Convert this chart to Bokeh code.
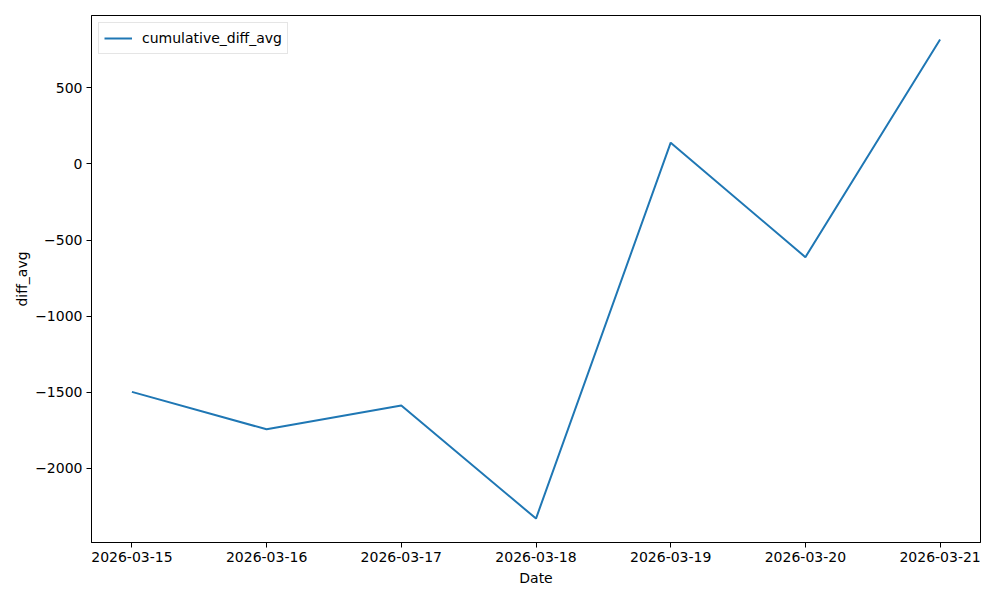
from datetime import datetime
from bokeh.plotting import figure
from bokeh.models import (ColumnDataSource, FixedTicker, DatetimeTickFormatter,
                          CustomJSTickFormatter, Legend, LegendItem, Range1d)
from bokeh.embed import file_html
from bokeh.resources import INLINE

dates = ["2026-03-15", "2026-03-16", "2026-03-17", "2026-03-18",
         "2026-03-19", "2026-03-20", "2026-03-21"]
values = [-1497, -1743, -1586, -2329, 140, -612, 818]
y_ticks = [-2000, -1500, -1000, -500, 0, 500]

xs = [datetime.strptime(d, "%Y-%m-%d") for d in dates]
src = ColumnDataSource(dict(x=xs, y=values))

x0 = xs[0].timestamp() * 1000
x1 = xs[-1].timestamp() * 1000
xpad = (x1 - x0) * 0.05
ymin, ymax = min(values), max(values)
ypad = (ymax - ymin) * 0.05

FONT = "DejaVu Sans"

p = figure(width=1000, height=600, frame_width=889, frame_height=527,
           x_axis_type="datetime", output_backend="svg", toolbar_location=None,
           min_border_left=91, min_border_right=20, min_border_top=15, min_border_bottom=58,
           x_range=Range1d(x0 - xpad, x1 + xpad),
           y_range=Range1d(ymin - ypad, ymax + ypad))

r = p.line("x", "y", source=src, line_color="#1f77b4", line_width=2)

p.xgrid.visible = False
p.ygrid.visible = False
p.outline_line_color = "black"
p.outline_line_width = 1
p.background_fill_color = "white"
p.border_fill_color = "white"

p.xaxis.ticker = FixedTicker(ticks=[d.timestamp() * 1000 for d in xs])
p.xaxis.formatter = DatetimeTickFormatter(days="%Y-%m-%d", months="%Y-%m-%d",
                                          hours="%Y-%m-%d", years="%Y-%m-%d")
p.yaxis.ticker = FixedTicker(ticks=y_ticks)
p.yaxis.formatter = CustomJSTickFormatter(code="return String(tick).replace('-', '\u2212');")

for ax in (p.xaxis[0], p.yaxis[0]):
    ax.major_tick_out = 5
    ax.major_tick_in = 0
    ax.minor_tick_line_color = None
    ax.axis_line_color = "black"
    ax.major_tick_line_color = "black"
    ax.major_label_text_font = FONT
    ax.major_label_text_font_size = "14px"
    ax.major_label_text_color = "black"
    ax.axis_label_text_font = FONT
    ax.axis_label_text_font_size = "14px"
    ax.axis_label_text_font_style = "normal"
    ax.axis_label_text_color = "black"

p.xaxis.axis_label = "Date"
p.yaxis.axis_label = "diff_avg"
p.xaxis.major_label_standoff = 4
p.yaxis.major_label_standoff = 4
p.xaxis.axis_label_standoff = 5
p.yaxis.axis_label_standoff = 2

legend = Legend(items=[LegendItem(label="cumulative_diff_avg", renderers=[r])],
                location="top_left")
legend.label_text_font = FONT
legend.label_text_font_size = "14px"
legend.label_text_color = "black"
legend.border_line_color = "#cccccc"
legend.border_line_width = 1
legend.margin = 7
legend.padding = 5
legend.glyph_width = 28
legend.label_standoff = 10
legend.spacing = 0
legend.background_fill_alpha = 0.8
p.add_layout(legend)

open("out.html", "w").write(file_html(p, INLINE))
